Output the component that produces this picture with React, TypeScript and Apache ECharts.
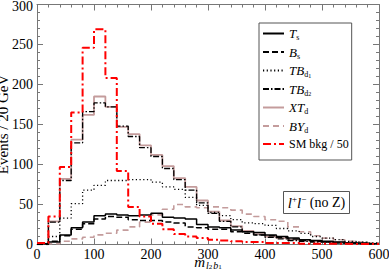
import React, { useEffect, useRef } from "react";
import * as echarts from "echarts";

const binEdges = [0, 20, 40, 60, 80, 100, 120, 140, 160, 180, 200, 220, 240, 260, 280, 300, 320, 340, 360, 380, 400, 420, 440, 460, 480, 500, 520, 540, 560, 580, 600];

const Ts = [1, 3, 12, 21, 28, 36, 38, 37, 36, 37, 39, 34, 33, 32, 25, 22, 21, 18, 16, 15, 12, 10, 8, 6, 5, 4, 3, 2, 2, 1];
const Bs = [0, 4, 11, 19, 26, 32, 35, 34, 31, 30, 30, 28, 27, 22, 21, 19, 19, 16, 14, 12, 11, 9, 7, 5, 4, 3, 2, 2, 1, 1];
const TBd1 = [1, 10, 33, 51, 68, 74, 80, 80, 81, 81, 78, 72, 69, 59, 49, 40, 36, 31, 27, 26, 24, 20, 17, 14, 10, 8, 6, 4, 3, 2];
const TBd2 = [1, 28, 80, 127, 166, 177, 172, 148, 135, 121, 110, 95, 81, 68, 52, 39, 29, 22, 16, 12, 9, 7, 5, 4, 3, 3, 2, 2, 1, 1];
const XTd = [1, 29, 82, 131, 162, 185, 172, 147, 138, 124, 112, 98, 83, 72, 55, 41, 30, 23, 17, 13, 10, 8, 6, 5, 4, 3, 3, 2, 2, 1];
const BYd = [0, 1, 4, 7, 9, 12, 14, 18, 22, 28, 37, 44, 50, 47, 46, 47, 46, 43, 38, 35, 31, 29, 22, 16, 11, 8, 6, 4, 3, 2];
const SMbkg = [2, 35, 97, 165, 246, 269, 208, 92, 47, 35, 26, 19, 13, 10, 8, 6, 5, 4, 3, 3, 2, 2, 2, 1, 1, 1, 1, 0.5, 0.5, 0.5];

const legendOrder = ["Ts", "Bs", "TBd1", "TBd2", "XTd", "BYd", "SM"];
const legendRich: Record<string, string> = {
  Ts: "{i|T}{s|s}",
  Bs: "{i|B}{s|s}",
  TBd1: "{i|TB}{s|d}{ss|1}",
  TBd2: "{i|TB}{s|d}{ss|2}",
  XTd: "{i|XT}{s|d}",
  BYd: "{i|BY}{s|d}",
  SM: "{r|SM bkg / 50}",
};

const SERIF = "'Liberation Serif', serif";
const FRAME = "#777";
const ROSE = "#c49c9c";

function toSteps(vals: number[]) {
  return binEdges.map((x, i) => [x, vals[Math.min(i, vals.length - 1)]]);
}

export default function App() {
  const ref = useRef<HTMLDivElement>(null);
  useEffect(() => {
    document.body.style.margin = "0";
    const chart = echarts.init(ref.current!, null, { renderer: "svg" });
    const mk = (name: string, vals: number[], color: string, type: any, width: number, z: number) => ({
      name,
      type: "line",
      step: "end",
      data: toSteps(vals),
      symbol: "none",
      showSymbol: false,
      z,
      lineStyle: { color, type, width, cap: "butt" },
      itemStyle: { color },
    });
    const richStyles = {
      i: { fontFamily: SERIF, fontStyle: "italic", fontSize: 13, lineHeight: 16, color: "#000" },
      r: { fontFamily: SERIF, fontSize: 12, lineHeight: 16, color: "#000" },
      s: { fontFamily: SERIF, fontSize: 8, lineHeight: 7, verticalAlign: "bottom", color: "#000" },
      ss: { fontFamily: SERIF, fontSize: 6, lineHeight: 1, verticalAlign: "bottom", color: "#000" },
    };
    const tickCommon = {
      axisLine: { show: true, onZero: false, lineStyle: { color: FRAME, width: 1 } },
      axisTick: { show: true, inside: true, length: 6, lineStyle: { color: FRAME } },
      minorTick: { show: true, splitNumber: 5, length: 3, lineStyle: { color: FRAME } },
      splitLine: { show: false },
    };
    chart.setOption({
      animation: false,
      backgroundColor: "#fff",
      grid: { left: 37, right: 10, top: 4.5, bottom: 33.5, outerBoundsMode: "none", containLabel: false },
      xAxis: [
        {
          type: "value",
          min: 0,
          max: 600,
          interval: 100,
          position: "bottom",
          name: "{m|m}{s|l}{ss|2}{s|b}{ss|1}",
          nameLocation: "middle",
          nameGap: 9.5,
          nameMoveOverlap: false,
          nameTextStyle: {
            rich: {
              m: { fontFamily: SERIF, fontStyle: "italic", fontSize: 15, lineHeight: 16, verticalAlign: "top", color: "#000" },
              s: { fontFamily: SERIF, fontStyle: "italic", fontSize: 10, lineHeight: 8, verticalAlign: "bottom", color: "#000", padding: [0, 0, 0, 1] },
              ss: { fontFamily: SERIF, fontSize: 7, lineHeight: 1, verticalAlign: "bottom", color: "#000", padding: [20, 0, 0, 0] },
            },
          },
          ...tickCommon,
          axisLabel: { color: "#000", fontFamily: SERIF, fontSize: 14, margin: 3 },
        },
        {
          type: "value",
          min: 0,
          max: 600,
          interval: 100,
          position: "top",
          ...tickCommon,
          axisLabel: { show: false },
        },
      ],
      yAxis: [
        {
          type: "value",
          min: 0,
          max: 300,
          interval: 50,
          position: "left",
          name: "Events / 20 GeV",
          nameLocation: "middle",
          nameGap: 27,
          nameMoveOverlap: false,
          nameTextStyle: { fontFamily: SERIF, fontSize: 15, color: "#000" },
          ...tickCommon,
          axisLabel: {
            color: "#000",
            fontFamily: SERIF,
            fontSize: 14,
            margin: 4,
            formatter: (v: number) => (v === 300 ? "{t|300}" : String(v)),
            rich: { t: { fontFamily: SERIF, fontSize: 14, color: "#000", padding: [4, 0, 0, 0] } },
          },
        },
        {
          type: "value",
          min: 0,
          max: 300,
          interval: 50,
          position: "right",
          ...tickCommon,
          axisLabel: { show: false },
        },
      ],
      legend: {
        data: legendOrder,
        orient: "vertical",
        left: 259,
        top: 23,
        padding: [4, 3, 10, 3],
        itemGap: 4,
        itemWidth: 21,
        itemHeight: 14,
        borderColor: "#555",
        borderWidth: 1,
        borderRadius: 0,
        backgroundColor: "#fff",
        itemStyle: { opacity: 0 },
        textStyle: { rich: richStyles, fontFamily: SERIF, fontSize: 12, color: "#000" },
        formatter: (name: string) => legendRich[name],
      },
      series: [
        mk("XTd", XTd, ROSE, "solid", 1.8, 2),
        mk("BYd", BYd, ROSE, [6, 4], 1.6, 2),
        mk("Ts", Ts, "#000", "solid", 1.5, 3),
        mk("Bs", Bs, "#000", [6, 3], 1.5, 3),
        mk("TBd1", TBd1, "#000", [1.2, 2.5], 1.3, 3),
        mk("TBd2", TBd2, "#000", [6, 2, 1.5, 2], 1.3, 3),
        mk("SM", SMbkg, "#ff0000", [8, 3, 2, 3], 2, 4),
      ],
      graphic: [
        {
          type: "group",
          left: 283,
          top: 191,
          children: [
            { type: "rect", shape: { x: 0, y: 0, width: 66, height: 22 }, style: { fill: "#fff", stroke: "#555", lineWidth: 1 } },
            {
              type: "text",
              x: 33,
              y: 11,
              style: {
                text: "{i|l}{p|+}{i|l}{p|\u2212}{r| (no Z)}",
                align: "center",
                verticalAlign: "middle",
                rich: {
                  i: { fontFamily: SERIF, fontStyle: "italic", fontSize: 15, lineHeight: 16, fill: "#000" },
                  p: { fontFamily: SERIF, fontSize: 9, lineHeight: 8, verticalAlign: "top", fill: "#000" },
                  r: { fontFamily: SERIF, fontSize: 14, lineHeight: 16, fill: "#000" },
                },
              },
            },
          ],
        },
      ],
    });
    return () => chart.dispose();
  }, []);
  return <div ref={ref} style={{ width: 389, height: 278 }} />;
}
